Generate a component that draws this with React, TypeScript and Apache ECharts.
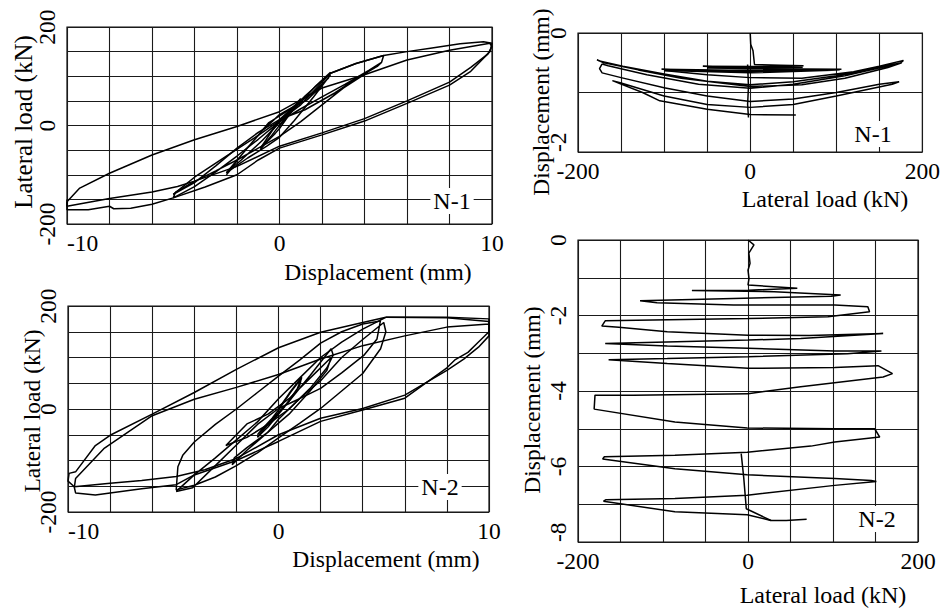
import React, { useEffect, useRef } from 'react';
import * as echarts from 'echarts';

const FONT = '"Liberation Serif", "Times New Roman", serif';

// Tick labels shown
const dispTickLabels = [-10, 0, 10];
const loadTickLabels = [-200, 0, 200];
const vertTickLabelsN1 = [0, -2];
const vertTickLabelsN2 = [0, -2, -4, -6, -8];

// ---- N-1 : lateral load (kN) vs displacement (mm) ----
const n1Loop1 = [[0,0],[0.4,22],[1.0,55],[0.8,44],[0.3,24],[0,12],[-0.4,-12],[-0.9,-49],[-0.7,-38],[-0.2,-16],[0,-6],[0.5,24],[1.0,52],[0.7,38],[0.2,18],[-0.3,-8],[-0.9,-46]];
const n1Loop2 = [[-0.9,-46],[-0.4,-22],[0.2,12],[0.9,42],[1.7,80],[2.4,108],[2.3,96],[1.6,68],[0.8,42],[0,22],[-0.8,-10],[-1.7,-55],[-2.5,-100],[-2.3,-90],[-1.5,-66],[-0.6,-42],[0,-24],[0.7,10],[1.6,58],[2.4,103],[2.1,86],[1.3,52],[0.4,30],[-0.5,6],[-1.5,-45],[-2.5,-96]];
const n1Loop3 = [[-2.5,-96],[-1.8,-70],[-0.8,-30],[0.3,20],[1.2,60],[2.4,106],[3.6,126],[4.9,142],[4.8,128],[4.2,112],[3.1,84],[2,58],[1,34],[0,8],[-1,-28],[-2,-62],[-3,-94],[-4,-124],[-5,-147],[-4.9,-136],[-4.2,-118],[-3,-92],[-2,-70],[-1,-46],[0,-22],[1,8],[2,42],[3,76],[4,104],[4.8,128],[4.6,120],[3.8,100],[2.6,66],[1.2,32],[0,12],[-1,-14],[-2,-46],[-3,-82],[-4,-116],[-5,-140]];
const n1Big1 = [[-5,-140],[-4,-105],[-2.5,-62],[-1,-20],[0,10],[1,42],[2.4,106],[3.6,126],[4.9,142],[6,150],[7.1,157],[8.5,166],[9.6,170],[10,167],[9.9,150],[9,110],[8,82],[6,45],[4,9],[2,-19],[0,-46],[-1,-70],[-2,-100],[-3.5,-125],[-5,-147],[-6,-160],[-7,-168],[-7.8,-169],[-8,-164],[-9,-171],[-10,-171],[-10,-155]];
const n1Big2 = [[-10,-155],[-9.4,-127],[-8,-97],[-6,-60],[-4,-29],[-2,-2],[0,28],[2,76],[4,103],[6,133],[8,153],[9.9,167],[10,160],[9.8,145],[9,118],[8,88],[6,50],[4,14],[2,-15],[0,-42],[-2,-83],[-4,-113],[-4.8,-124],[-6,-135],[-8,-148],[-10,-164],[-10,-150]];

// ---- N-1 : vertical displacement (mm) vs lateral load (kN) ----
const n1vSmall = [[0,0],[0.6,-0.19],[3.3,-0.3],[5,-0.53],[35,-0.54],[62,-0.55],[30,-0.56],[0,-0.565],[-55,-0.56],[-20,-0.57],[20,-0.58],[61,-0.58],[0,-0.59],[-50,-0.585]];
const n1vMid = [[-50,-0.585],[0,-0.6],[106,-0.61],[50,-0.62],[0,-0.63],[-103,-0.61],[-50,-0.63],[0,-0.65],[60,-0.64],[104,-0.62],[0,-0.67],[-100,-0.63]];
const n1vUpper = [[-100,-0.63],[-50,-0.7],[0,-0.75],[60,-0.76],[120,-0.65],[150,-0.56],[178,-0.46],[175,-0.5],[150,-0.58],[100,-0.72],[50,-0.82],[0,-0.87],[-50,-0.81],[-100,-0.69],[-148,-0.56],[-175,-0.47],[-178,-0.45],[-170,-0.5],[-130,-0.62],[-80,-0.76],[0,-0.9],[60,-0.87],[110,-0.76],[160,-0.58],[176,-0.5],[165,-0.54],[110,-0.72],[50,-0.86],[0,-0.93],[-60,-0.86],[-120,-0.7],[-165,-0.55],[-172,-0.52]];
const n1vLower = [[-172,-0.52],[-175,-0.6],[-172,-0.67],[-150,-0.75],[-100,-0.92],[-50,-1.06],[0,-1.15],[50,-1.11],[100,-1.0],[150,-0.86],[173,-0.82],[165,-0.86],[100,-1.06],[50,-1.2],[0,-1.25],[-50,-1.2],[-100,-1.06],[-150,-0.84],[-160,-0.8],[-150,-0.86],[-125,-1.0],[-105,-1.14],[-50,-1.28],[0,-1.37],[53,-1.38]];
const n1vCentre = [[-3,-0.53],[-2,-0.9],[-3,-1.2],[-2,-1.42]];

// ---- N-2 : lateral load (kN) vs displacement (mm) ----
const n2Loop1 = [[0,0],[0.5,30],[1.1,62],[1.0,45],[0.5,15],[0,-8],[-0.5,-30],[-1,-50],[-0.8,-40],[-0.3,-18],[0,-2],[0.6,34],[1.1,60],[0.9,40],[0.3,5],[-0.5,-35],[-1,-55]];
const n2Loop2 = [[-1,-55],[-0.3,-20],[0.5,15],[1.5,65],[2.5,117],[2.6,105],[2.3,80],[1.5,40],[0.5,0],[-0.5,-30],[-1.5,-55],[-2.5,-71],[-1.5,-29],[-0.5,-10],[0.5,20],[1.5,60],[2.5,100],[2.3,75],[1.5,35],[0.5,-10],[-0.5,-45],[-1.5,-80],[-2.2,-108],[-2.1,-95],[-1.5,-75],[-0.5,-45]];
const n2Loop3 = [[-0.5,-45],[0,-20],[1,20],[2,55],[3,100],[4,135],[5,168],[5.1,150],[4.85,117],[4,69],[3,35],[2,1],[1,-28],[0,-56],[-1,-85],[-2,-110],[-3,-132],[-4,-148],[-4.86,-157],[-4.78,-112],[-4.55,-90],[-4,-64],[-3,-30],[-2,0],[-1,32],[0,64],[1,95],[2,128],[3,150],[4,165],[4.84,171],[4.68,136],[4.05,104],[3,70],[2,40],[1,20],[0,1],[-1,-30],[-2,-70],[-3,-110],[-4.08,-153],[-4.86,-160]];
const n2Big1 = [[-4.86,-160],[-4,-128],[-3,-95],[-2,-60],[-1,-25],[0,20],[1,60],[2,100],[3,130],[4,155],[5.1,178],[6,178],[8,178],[10,175],[10,142],[9.5,120],[8.8,97],[8,75],[6,27],[4,1],[2,-18],[0,-50],[-2,-96],[-3.5,-118],[-4.86,-131],[-6.5,-139],[-8,-144],[-9.7,-151],[-10,-140],[-9.95,-125],[-9.64,-122],[-8.7,-71],[-8,-51],[-6,-10],[-4,32],[-2,77],[0,119],[2,149],[4,168],[5.1,178]];
const n2Big2 = [[5.1,178],[8,177],[10,170],[10,150],[9.5,130],[9,110],[8.4,96],[8,80],[6,21],[4,-2],[2,-24],[0,-63],[-2,-100],[-4,-128],[-4.86,-147],[-6.5,-155],[-8,-163],[-8.7,-167],[-9.64,-163],[-9.7,-152],[-9.64,-135],[-8.3,-77],[-6,-13],[-4,19],[-2,42],[0,67],[2,97],[4,123],[6,142],[8,159],[10,165],[10,150]];

// ---- N-2 : vertical displacement (mm) vs lateral load (kN) ----
const n2vPath1 = [[0,0],[7,-0.13],[1,-0.35],[2.4,-0.62],[0,-0.8],[1.2,-1.02],[0,-1.19],[58,-1.28],[1,-1.33],[-66,-1.34],[31,-1.37],[109,-1.46],[98,-1.49],[-17,-1.55],[-127,-1.61],[-107,-1.66],[-17,-1.72],[102,-1.72],[141,-1.77],[143,-1.9],[94,-2.03],[0,-2.08],[-168,-2.14],[-172,-2.28],[-152,-2.31],[-95,-2.43],[0,-2.52],[72,-2.53],[159,-2.48],[62,-2.61],[0,-2.65],[-168,-2.74],[-95,-2.81],[0,-2.87],[102,-2.94],[157,-2.94],[117,-3.01],[0,-3.09],[-95,-3.14],[-164,-3.17],[-95,-3.27],[0,-3.4],[102,-3.38],[153,-3.33],[170,-3.54],[159,-3.63],[62,-3.89],[0,-4.07]];
const n2vPath2 = [[0,-4.07],[-135,-4.11],[-180,-4.11],[-181,-4.48],[-86,-4.82],[-1,-4.98],[102,-5.0],[149,-5.0],[155,-5.22],[102,-5.35],[74,-5.46],[-1,-5.62],[-86,-5.7],[-169,-5.74],[-171,-5.8],[-86,-6.06],[-1,-6.22],[102,-6.32],[145,-6.37],[151,-6.4],[102,-6.5],[-1,-6.76],[-86,-6.85],[-167,-6.88],[-170,-6.92],[-86,-7.2],[-1,-7.28],[27,-7.43],[45,-7.43],[69,-7.4]];
const n2vDrift = [[-8,-5.66],[-5,-6.3],[-2,-7.12],[27,-7.43]];

const labelFmt = (list: number[]) => (v: number) => (list.indexOf(Math.round(v * 1000) / 1000) >= 0 ? String(v) : '');

export default function App() {
  const ref = useRef<HTMLDivElement>(null);
  useEffect(() => {
    const chart = echarts.init(ref.current!, null, { renderer: 'svg' });
    const axisText = { fontFamily: FONT, fontSize: 23.5, color: '#000' };
    const split = { show: true, lineStyle: { color: '#1a1a1a', width: 1.1 } };
    const mkX = (gi: number, min: number, max: number, interval: number, labels: number[], alignMin?: string) => ({
      type: 'value', gridIndex: gi, min, max, interval,
      axisLine: { show: false }, axisTick: { show: false }, splitLine: split,
      axisLabel: { ...axisText, margin: 7, formatter: labelFmt(labels), alignMinLabel: alignMin || 'center' },
    });
    const mkY = (gi: number, min: number, max: number, interval: number, labels: number[], alignMin?: string) => ({
      type: 'value', gridIndex: gi, min, max, interval,
      axisLine: { show: false }, axisTick: { show: false }, splitLine: split,
      axisLabel: { ...axisText, margin: 8, rotate: 90, formatter: labelFmt(labels), alignMinLabel: alignMin || 'center' },
    });
    const mkS = (data: number[][], gi: number) => ({
      type: 'line', xAxisIndex: gi, yAxisIndex: gi, data, symbol: 'none', showSymbol: false,
      lineStyle: { color: '#000', width: 1.5 }, silent: true, z: 3,
    });
    const txt = (text: string, x: number, y: number, size: number, rot = 0, bg = false) => ({
      type: 'text', x, y, rotation: rot, z: 10,
      style: {
        text, fontFamily: FONT, fontSize: size, fill: '#000',
        align: 'center', verticalAlign: 'middle', textAlign: 'center', textVerticalAlign: 'middle',
        ...(bg ? { backgroundColor: '#fff', padding: [1, 3] } : {}),
      },
    });
    const gridBase = { show: true, borderColor: '#111', borderWidth: 1.2, backgroundColor: 'transparent', containLabel: false };
    const option: any = {
      animation: false,
      backgroundColor: '#fff',
      grid: [
        { ...gridBase, left: 67, top: 27, width: 425, height: 197 },
        { ...gridBase, left: 578, top: 33, width: 345, height: 119 },
        { ...gridBase, left: 68, top: 306, width: 421, height: 206 },
        { ...gridBase, left: 578, top: 240, width: 340, height: 302 },
      ],
      xAxis: [
        mkX(0, -10, 10, 2, dispTickLabels, 'left'),
        mkX(1, -200, 200, 50, loadTickLabels),
        mkX(2, -10, 10, 2, dispTickLabels, 'left'),
        mkX(3, -200, 200, 50, loadTickLabels),
      ],
      yAxis: [
        mkY(0, -200, 200, 50, loadTickLabels),
        mkY(1, -2, 0, 1, vertTickLabelsN1, 'left'),
        mkY(2, -200, 200, 50, loadTickLabels),
        mkY(3, -8, 0, 1, vertTickLabelsN2, 'left'),
      ],
      series: [
        mkS(n1Loop1, 0), mkS(n1Loop2, 0), mkS(n1Loop3, 0), mkS(n1Big1, 0), mkS(n1Big2, 0),
        mkS(n1vSmall, 1), mkS(n1vMid, 1), mkS(n1vUpper, 1), mkS(n1vLower, 1), mkS(n1vCentre, 1),
        mkS(n2Loop1, 2), mkS(n2Loop2, 2), mkS(n2Loop3, 2), mkS(n2Big1, 2), mkS(n2Big2, 2),
        mkS(n2vPath1, 3), mkS(n2vPath2, 3), mkS(n2vDrift, 3),
      ],
      graphic: [
        txt('Lateral load (kN)', 23, 122, 25, Math.PI / 2),
        txt('Displacement (mm)', 378, 272, 23.5),
        txt('Displacement (mm)', 541, 102, 23.5, Math.PI / 2),
        txt('Lateral load (kN)', 825, 199, 24),
        txt('Lateral load (kN)', 32, 411, 23.5, Math.PI / 2),
        txt('Displacement (mm)', 386, 559, 23.5),
        txt('Displacement (mm)', 532, 400, 23.5, Math.PI / 2),
        txt('Lateral load (kN)', 823, 595, 24),
        txt('N-1', 452, 201, 24, 0, true),
        txt('N-1', 873, 134, 24, 0, true),
        txt('N-2', 440, 487, 24, 0, true),
        txt('N-2', 877, 519, 24, 0, true),
      ],
    };
    chart.setOption(option);
    return () => chart.dispose();
  }, []);
  return <div ref={ref} style={{ position: 'absolute', left: 0, top: 0, width: 943, height: 608, background: '#fff' }} />;
}
